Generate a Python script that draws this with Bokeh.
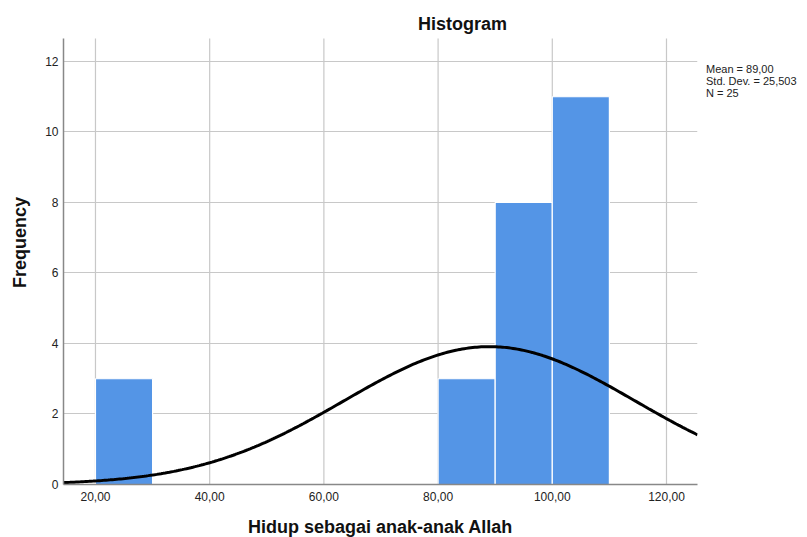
import math
import numpy as np
from bokeh.plotting import figure
from bokeh.models import FixedTicker, Label, Range1d, Legend, LegendItem
from bokeh.embed import file_html
from bokeh.resources import INLINE

# Histogram bins (left edge, right edge) and counts
bin_left = [20, 80, 90, 100]
bin_right = [30, 90, 100, 110]
counts = [3, 3, 8, 11]

# Summary statistics
mean = 89.0
std_dev = 25.503
n = 25
bin_width = 10
stats_lines = ["Mean = 89,00", "Std. Dev. = 25,503", "N = 25"]

x_ticks = [20, 40, 60, 80, 100, 120]
x_tick_labels = ["20,00", "40,00", "60,00", "80,00", "100,00", "120,00"]
y_ticks = [0, 2, 4, 6, 8, 10, 12]

X0, X1 = 14.4, 125.43   # axis extent
Y1 = 12.65              # top of y axis
Y_TOP = 13.73           # top of drawing area (room for the title)

p = figure(frame_width=634, frame_height=484, output_backend="svg", toolbar_location=None,
           x_range=Range1d(X0, X1), y_range=Range1d(0, Y_TOP),
           min_border_left=63, min_border_right=110, min_border_top=0, min_border_bottom=45)
p.outline_line_color = None
p.background_fill_color = "white"

grid_color = "#c8c8c8"
p.xgrid.visible = False
p.segment(x0=x_ticks, x1=x_ticks, y0=[0] * len(x_ticks), y1=[Y1] * len(x_ticks),
          line_color=grid_color, line_width=1.2)
p.ygrid.ticker = FixedTicker(ticks=y_ticks[1:])
p.ygrid.grid_line_color = grid_color
p.ygrid.grid_line_width = 1.2

p.quad(left=bin_left, right=bin_right, bottom=0, top=counts,
       fill_color="#5495E6", line_color="white", line_width=1.2)

# Normal curve from stated mean / std dev
xs = np.linspace(X0, X1, 300)
ys = n * bin_width / (std_dev * math.sqrt(2 * math.pi)) * np.exp(-0.5 * ((xs - mean) / std_dev) ** 2)
p.line(xs, ys, line_color="black", line_width=3)

for ax in (p.xaxis[0], p.yaxis[0]):
    ax.major_tick_line_color = None
    ax.minor_tick_line_color = None
    ax.major_tick_out = 0
    ax.major_tick_in = 0
    ax.minor_tick_out = 0
    ax.minor_tick_in = 0
    ax.axis_line_color = "#888888"
    ax.axis_line_width = 1.5
    ax.major_label_text_font = "Liberation Sans"
    ax.major_label_text_font_size = "12px"
    ax.major_label_text_color = "#222222"
    ax.axis_label_text_font = "Liberation Sans"
    ax.axis_label_text_font_size = "18px"
    ax.axis_label_text_font_style = "bold"
    ax.axis_label_text_color = "#111111"

p.xaxis[0].ticker = FixedTicker(ticks=x_ticks)
p.xaxis[0].major_label_overrides = {t: l for t, l in zip(x_ticks, x_tick_labels)}
p.xaxis[0].major_label_standoff = 7
p.xaxis[0].axis_label = "Hidup sebagai anak-anak Allah"
p.xaxis[0].axis_label_standoff = 13
p.yaxis[0].bounds = (0, Y1)
p.yaxis[0].ticker = FixedTicker(ticks=y_ticks)
p.yaxis[0].major_label_standoff = 5
p.yaxis[0].axis_label = "Frequency"
p.yaxis[0].axis_label_standoff = 12

p.add_layout(Label(x=84.27, y=13.05, text="Histogram", text_align="center", text_baseline="middle",
                   text_font="Liberation Sans", text_font_size="18px", text_font_style="bold",
                   text_color="#111111"))

# Summary statistics shown as a borderless legend on the right
dummy = p.scatter(x=[mean], y=[0], size=0, fill_alpha=0, line_alpha=0)
legend = Legend(items=[LegendItem(label=s, renderers=[dummy]) for s in stats_lines],
                location=(9, 385), orientation="vertical",
                glyph_width=0, glyph_height=10, label_standoff=0, label_height=10,
                label_text_font="Liberation Sans", label_text_font_size="11px",
                label_text_color="#222222", label_text_line_height=1.0,
                spacing=0, padding=0, margin=0,
                border_line_color=None, background_fill_alpha=0)
p.add_layout(legend, "right")

open("out.html", "w").write(file_html(p, INLINE))
